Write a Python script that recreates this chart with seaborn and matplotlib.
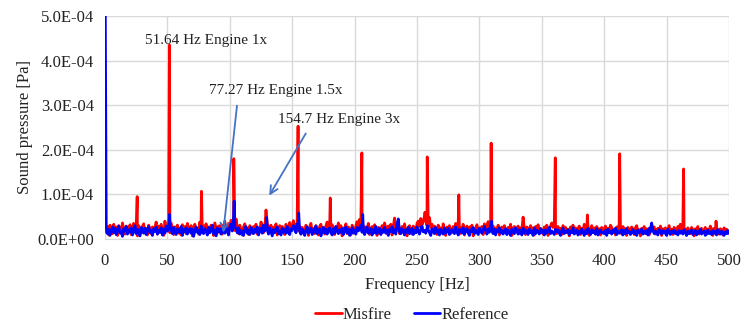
import numpy as np
import pandas as pd
import matplotlib
matplotlib.use("Agg")
import matplotlib.pyplot as plt
from matplotlib.ticker import FuncFormatter
import seaborn as sns

# ---------------- data (sound pressure in 1e-6 Pa) ----------------
noise_step_hz = 1  # noise floor sampled every 1 Hz from 0 to 500 Hz

misfire_noise = [
    34, 15, 28, 9, 31, 22, 12, 33, 19, 27, 8, 30, 24, 14, 36, 21, 11, 29, 25, 17,
    32, 10, 26, 35, 18, 23, 7, 30, 20, 13, 28, 34, 16, 24, 9, 31, 22, 12, 27, 19,
    25, 38, 11, 29, 15, 33, 21, 8, 40, 26, 18, 30, 14, 36, 23, 10, 27, 20, 31, 13,
    24, 9, 32, 19, 28, 12, 35, 22, 16, 30, 7, 26, 33, 18, 25, 11, 38, 21, 14, 29,
    20, 34, 10, 27, 17, 31, 23, 8, 36, 24, 13, 29, 19, 33, 11, 26, 40, 22, 15, 35,
    28, 42, 30, 37, 19, 45, 26, 12, 31, 21, 9, 27, 34, 16, 24, 10, 30, 20, 13, 28,
    23, 33, 11, 25, 18, 38, 29, 14, 22, 8, 35, 27, 17, 31, 12, 26, 20, 34, 9, 24,
    30, 15, 28, 21, 10, 33, 25, 13, 37, 19, 27, 41, 23, 32, 36, 18, 29, 11, 26, 20,
    14, 31, 22, 8, 27, 35, 17, 24, 12, 30, 21, 9, 28, 33, 16, 25, 11, 29, 38, 19,
    26, 13, 32, 20, 10, 28, 23, 36, 15, 30, 7, 25, 19, 34, 12, 27, 21, 9, 31, 24,
    17, 29, 39, 26, 44, 33, 22, 30, 12, 27, 19, 35, 10, 24, 28, 14, 32, 21, 8, 26,
    23, 11, 30, 18, 36, 25, 13, 29, 20, 33, 9, 27, 37, 16, 24, 31, 12, 22, 28, 15,
    34, 19, 7, 26, 30, 21, 11, 29, 24, 14, 35, 40, 28, 46, 32, 38, 52, 44, 30, 36,
    42, 26, 33, 15, 29, 22, 10, 31, 18, 25, 13, 34, 20, 8, 27, 23, 30, 12, 21, 28,
    16, 35, 24, 30, 11, 26, 19, 33, 9, 22, 29, 14, 27, 20, 31, 7, 24, 18, 32, 12,
    25, 21, 28, 10, 34, 23, 30, 39, 26, 36, 19, 29, 12, 24, 17, 31, 9, 22, 27, 14,
    30, 20, 11, 26, 18, 33, 8, 24, 28, 15, 21, 29, 12, 25, 19, 35, 23, 10, 27, 16,
    22, 30, 13, 25, 9, 28, 19, 32, 14, 24, 20, 11, 27, 17, 31, 8, 23, 29, 36, 26,
    33, 21, 12, 28, 16, 24, 10, 30, 19, 26, 14, 22, 7, 27, 20, 31, 12, 25, 18, 23,
    29, 10, 24, 17, 33, 21, 13, 27, 8, 22, 30, 15, 25, 11, 28, 19, 23, 9, 26, 16,
    21, 29, 12, 24, 18, 31, 26, 14, 22, 9, 27, 20, 34, 25, 11, 28, 17, 23, 8, 26,
    19, 13, 27, 22, 10, 25, 30, 16, 21, 7, 24, 18, 28, 12, 23, 20, 9, 26, 15, 22,
    27, 11, 20, 24, 14, 29, 8, 23, 18, 25, 12, 21, 30, 16, 22, 10, 26, 19, 13, 28,
    24, 33, 20, 27, 15, 22, 9, 25, 18, 12, 26, 21, 7, 23, 17, 28, 11, 20, 24, 14,
    19, 26, 10, 22, 16, 29, 21, 8, 24, 13, 27, 18, 11, 23, 20, 9, 25, 15, 22, 12,
    18,
]

reference_noise = [
    30, 26, 12, 22, 8, 19, 27, 14, 24, 10, 20, 29, 13, 17, 6, 23, 18, 28, 11, 21,
    15, 25, 9, 19, 30, 12, 22, 16, 7, 26, 18, 13, 24, 10, 21, 28, 14, 19, 8, 23,
    17, 27, 11, 20, 15, 25, 9, 22, 13, 29, 18, 24, 35, 20, 12, 26, 16, 10, 23, 19,
    14, 28, 8, 21, 17, 25, 11, 19, 24, 13, 22, 6, 18, 27, 15, 20, 10, 29, 16, 12,
    23, 18, 9, 26, 14, 21, 31, 12, 19, 7, 25, 16, 22, 11, 28, 17, 13, 24, 20, 9,
    27, 33, 18, 45, 29, 22, 14, 25, 11, 19, 16, 8, 23, 28, 13, 20, 10, 26, 17, 12,
    22, 15, 27, 9, 19, 24, 13, 31, 18, 28, 21, 11, 25, 16, 7, 22, 14, 20, 27, 12,
    18, 9, 24, 15, 21, 13, 28, 17, 10, 23, 19, 30, 26, 14, 34, 25, 18, 11, 22, 16,
    8, 20, 27, 13, 18, 24, 10, 21, 15, 29, 12, 19, 23, 7, 17, 26, 14, 22, 11, 20,
    25, 16, 9, 23, 13, 28, 18, 12, 21, 15, 24, 10, 19, 27, 14, 22, 8, 17, 25, 13,
    20, 11, 26, 18, 24, 31, 15, 22, 10, 19, 27, 13, 16, 23, 9, 21, 14, 28, 12, 18,
    24, 10, 20, 15, 26, 13, 19, 8, 22, 17, 28, 14, 21, 11, 33, 25, 16, 12, 23, 19,
    9, 21, 15, 26, 12, 18, 24, 10, 20, 14, 27, 17, 11, 22, 29, 16, 19, 13, 25, 21,
    14, 8, 23, 18, 12, 26, 15, 20, 9, 22, 17, 11, 25, 13, 19, 24, 10, 18, 21, 15,
    12, 27, 16, 9, 22, 19, 13, 25, 11, 18, 23, 14, 8, 21, 16, 26, 12, 20, 15, 10,
    24, 17, 13, 21, 28, 19, 11, 23, 15, 30, 18, 12, 22, 9, 20, 16, 25, 13, 19, 11,
    17, 23, 10, 20, 14, 8, 22, 16, 12, 25, 18, 11, 21, 15, 9, 24, 13, 19, 17, 10,
    22, 14, 18, 8, 25, 12, 20, 16, 11, 23, 15, 19, 9, 21, 13, 17, 26, 12, 18, 14,
    10, 22, 16, 20, 13, 8, 19, 24, 12, 17, 15, 21, 10, 18, 14, 25, 11, 16, 20, 9,
    17, 13, 22, 15, 8, 19, 12, 24, 16, 10, 21, 14, 18, 11, 23, 9, 17, 20, 13, 15,
    12, 19, 8, 22, 14, 17, 11, 20, 15, 24, 10, 18, 13, 16, 21, 9, 19, 12, 23, 14,
    17, 10, 15, 21, 12, 18, 8, 20, 14, 16, 22, 11, 17, 13, 19, 9, 24, 15, 30, 20,
    12, 18, 14, 9, 21, 16, 11, 19, 13, 17, 8, 22, 15, 10, 18, 14, 20, 12, 16, 9,
    19, 13, 17, 11, 21, 15, 8, 18, 12, 16, 20, 10, 14, 19, 9, 17, 13, 22, 11, 15,
    18, 8, 14, 20, 12, 16, 10, 19, 13, 17, 9, 21, 15, 11, 18, 14, 8, 16, 12, 19,
    13,
]

misfire_peak_hz = [25.8, 51.64, 77.27, 101.5, 103.2, 129.0, 154.7, 180.5, 205.8,
                   232.0, 256.4, 258.2, 260.0, 283.5, 309.4, 335.0, 360.8, 386.5,
                   412.4, 438.0, 463.6, 489.6]
misfire_peak_val = [95, 435, 107, 40, 180, 65, 253, 92, 193,
                    47, 60, 184, 48, 99, 215, 49, 182, 54,
                    191, 30, 157, 40]

reference_peak_hz = [0.0, 51.8, 103.5, 129.5, 155.2, 206.5, 235.0, 258.5, 309.8, 438.0]
reference_peak_val = [650, 55, 85, 48, 58, 55, 45, 30, 40, 36]

series_names = ["Misfire", "Reference"]
series_colors = ["#ff0000", "#0000ff"]

annotations = [
    ("51.64 Hz Engine 1x", 32.0, 4.46e-4, None, None),
    ("77.27 Hz Engine 1.5x", 83.0, 3.34e-4, (106.0, 3.05e-4), (94.5, 0.08e-4)),
    ("154.7 Hz Engine 3x", 138.5, 2.67e-4, (162.0, 2.42e-4), (130.5, 0.92e-4)),
]

# ---------------- build table ----------------
def build(noise, peak_hz, peak_val, name):
    f = list(np.arange(len(noise)) * noise_step_hz) + list(peak_hz)
    v = list(noise) + list(peak_val)
    df = pd.DataFrame({"Frequency": f, "Pressure": np.array(v) * 1e-6, "Series": name})
    df = df.drop_duplicates("Frequency", keep="last")
    return df.sort_values("Frequency", kind="stable")

df = pd.concat([
    build(misfire_noise, misfire_peak_hz, misfire_peak_val, series_names[0]),
    build(reference_noise, reference_peak_hz, reference_peak_val, series_names[1]),
], ignore_index=True)

# ---------------- plot ----------------
sns.set_style("white")
plt.rcParams["font.family"] = ["Liberation Serif", "DejaVu Serif"]

fig = plt.figure(figsize=(7.42, 3.25), dpi=100)
ax = fig.add_axes([0.1415, 0.2646, 0.841, 0.6862])

sns.lineplot(data=df, x="Frequency", y="Pressure", hue="Series",
             hue_order=series_names, palette=dict(zip(series_names, series_colors)),
             estimator=None, sort=False, linewidth=2.0, ax=ax, legend=False)

ax.set_xlim(0, 500)
ax.set_ylim(0, 5e-4)
ax.set_xticks(np.arange(0, 501, 50))
ax.set_yticks(np.arange(0, 5.01e-4, 1e-4))
ax.yaxis.set_major_formatter(FuncFormatter(lambda v, p: f"{v:.1E}"))
ax.grid(True, color="#d9d9d9", linewidth=1.0)
ax.set_axisbelow(True)
for s in ["top", "right", "left"]:
    ax.spines[s].set_visible(False)
ax.spines["bottom"].set_color("#d9d9d9")
ax.tick_params(axis="both", length=0, labelsize=12, colors="#222222")
ax.tick_params(axis="x", pad=10)
ax.tick_params(axis="y", pad=8)
ax.set_xlabel("Frequency [Hz]", fontsize=12, color="#222222", labelpad=6)
ax.set_ylabel("Sound pressure [Pa]", fontsize=12, color="#222222", labelpad=3)

for text, tx, ty, start, end in annotations:
    ax.text(tx, ty, text, fontsize=11, color="#222222", va="center", ha="left")
    if start is not None:
        ax.annotate("", xy=end, xytext=start,
                    arrowprops=dict(arrowstyle="->", color="#4472c4", lw=1.3,
                                    mutation_scale=14))

handles = [plt.Line2D([], [], color=c, lw=2) for c in series_colors]
fig.legend(handles, series_names, loc="center", bbox_to_anchor=(0.555, 0.031),
           ncol=2, frameon=False, fontsize=12, handlelength=1.6,
           handletextpad=0.05, columnspacing=1.3)

fig.savefig("out.png", dpi=100)
